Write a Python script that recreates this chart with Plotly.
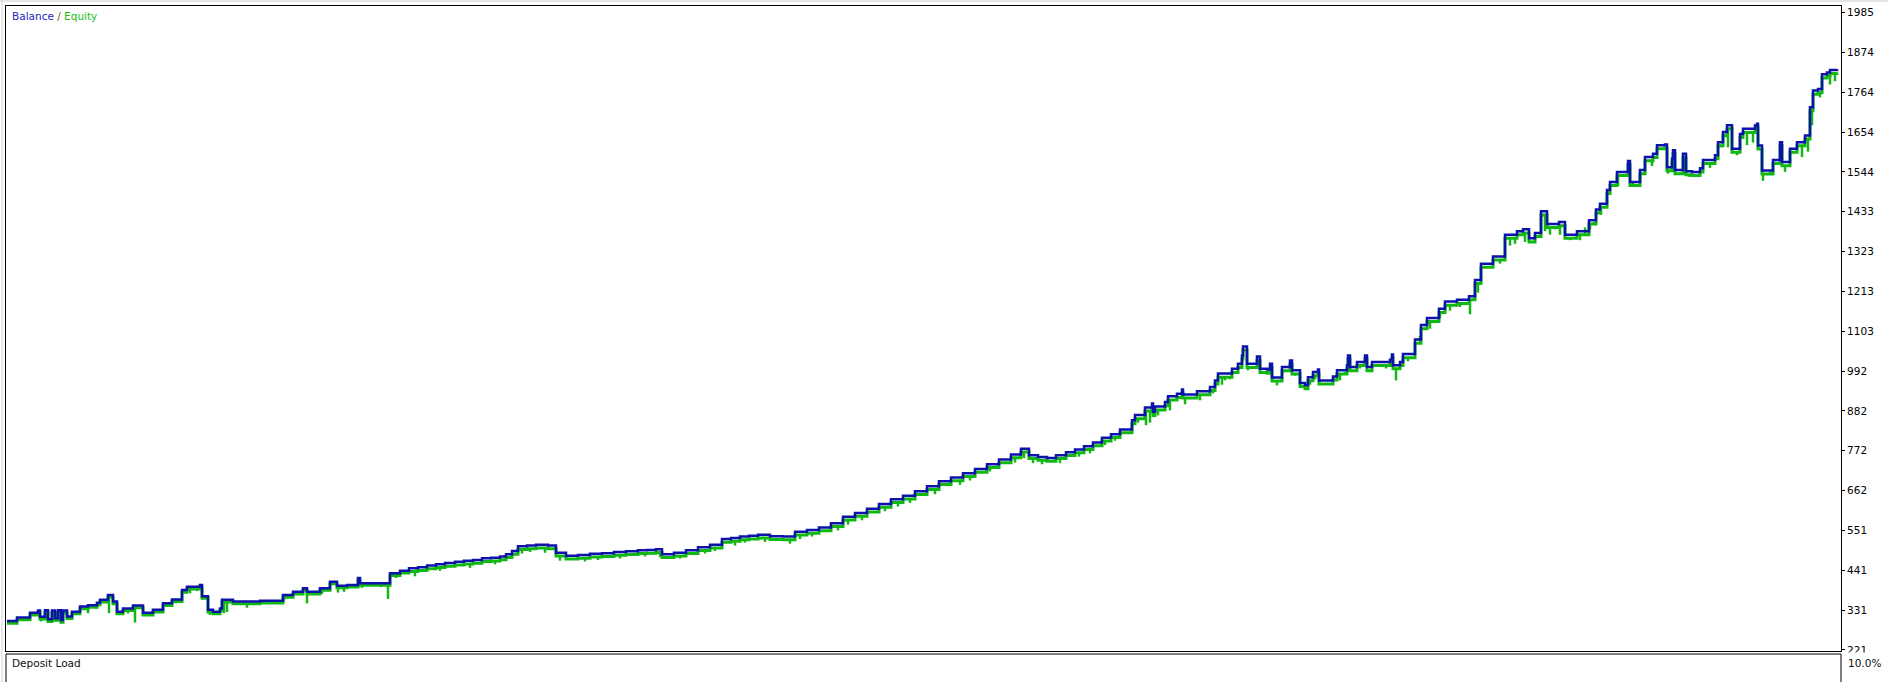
import bisect
import plotly.graph_objects as go

# ---- data ----
# trade position, balance after the deal, floating equity right after it
trade = [7, 17, 30, 38, 40, 45, 48, 52, 55, 58, 61, 63, 67, 72, 80, 88, 97, 100, 108, 113,
         117, 123, 133, 140, 143, 153, 163, 172, 182, 187, 200, 202, 208, 213, 220, 222, 230, 233, 247, 260,
         283, 293, 303, 307, 320, 330, 337, 347, 358, 360, 373, 390, 400,
         409, 418, 427, 436, 445, 455, 464, 473, 482, 491, 500, 506, 512, 518, 527, 536, 548, 556, 566, 578,
         590, 602, 614, 626, 638, 647, 656, 662, 674, 686, 698, 710, 722, 731, 740, 749, 758, 770, 783, 795,
         807, 819, 831, 843, 855, 867, 879, 891, 903, 915, 927, 939, 951, 963, 975, 987, 999, 1011, 1021,
         1029, 1038, 1047, 1056, 1066, 1075, 1084, 1093, 1102, 1111, 1120,
         1132, 1135, 1145, 1152, 1153, 1155, 1165, 1168, 1177, 1182, 1183, 1197, 1210, 1215, 1218,
         1232, 1238, 1242, 1243, 1247, 1257, 1260, 1267, 1270, 1272, 1282, 1290, 1292, 1300, 1305,
         1308, 1313, 1318, 1319, 1333, 1337, 1347, 1348, 1350, 1357, 1365, 1367, 1372, 1390, 1392,
         1393, 1400,
         1403, 1415, 1421, 1427, 1439, 1445, 1457, 1469, 1475, 1481, 1493, 1505, 1517, 1523, 1529,
         1535, 1541, 1547, 1559, 1565, 1577, 1589, 1596,
         1600, 1607, 1610, 1617, 1628, 1630, 1640, 1645, 1653, 1657, 1665, 1667, 1672, 1673, 1675,
         1683, 1686, 1692, 1700, 1703, 1715, 1718, 1723, 1727, 1731, 1732, 1740, 1743, 1755, 1757,
         1758, 1762, 1767, 1773, 1780, 1782, 1790, 1797, 1800, 1805, 1810, 1813, 1818, 1822, 1827,
         1830, 1837]

balance = [301, 311, 324, 330, 313, 331, 306, 330, 309, 331, 304, 330, 314, 327, 341, 345, 352, 360, 373, 355,
           327, 336, 344, 344, 324, 332, 350, 361, 387, 396, 401, 370, 332, 327, 336, 360, 360, 355, 355, 357,
           373, 382, 392, 382, 392, 410, 399, 401, 420, 406, 406, 433, 440,
           447, 450, 455, 458, 462, 465, 468, 470, 475, 476, 480, 486, 495, 508, 510, 512, 510, 490, 482, 484,
           487, 489, 492, 494, 497, 498, 500, 486, 490, 497, 505, 512, 528, 531, 535, 537, 540, 536, 535, 548,
           553, 560, 572, 590, 600, 612, 625, 638, 648, 660, 674, 688, 698, 710, 722, 735, 748, 762, 778,
           760, 755, 752, 760, 768, 776, 785, 795, 808, 818, 831,
           857, 871, 892, 903, 880, 895, 907, 923, 930, 942, 928, 937, 949, 967, 986,
           999, 1013, 1036, 1061, 1013, 1033, 999, 997, 1013, 975, 1004, 1022, 995, 960, 954,
           976, 990, 997, 967, 978, 995, 1009, 1036, 1004, 1018, 1036, 1004, 1018, 1024, 1039,
           1009, 1018,
           1040, 1080, 1120, 1140, 1165, 1185, 1190, 1200, 1245, 1290, 1310, 1370, 1380, 1385, 1360,
           1375, 1435, 1400, 1405, 1370, 1380, 1410, 1440,
           1456, 1494, 1516, 1544, 1574, 1516, 1549, 1585, 1594, 1618, 1620, 1557, 1580, 1604, 1549,
           1594, 1546, 1544, 1554, 1577, 1590, 1626, 1654, 1673, 1673, 1608, 1649, 1663, 1672, 1677,
           1617, 1548, 1548, 1577, 1626, 1571, 1608, 1626, 1626, 1645, 1723, 1769, 1773, 1814, 1819,
           1826, 1829]

equity = [295, 305, 318, 324, 307, 325, 300, 324, 303, 325, 298, 324, 308, 321, 335, 339, 346, 354, 367, 349,
          321, 330, 338, 338, 318, 326, 344, 355, 381, 390, 395, 364, 326, 321, 330, 354, 354, 349, 349, 351,
          367, 376, 386, 376, 386, 404, 393, 395, 414, 400, 400, 427, 434,
          438, 441, 446, 449, 453, 456, 459, 461, 466, 467, 471, 477, 486, 499, 501, 503, 501, 481, 473, 475,
          478, 480, 483, 485, 488, 489, 491, 477, 481, 488, 496, 503, 519, 522, 526, 528, 531, 527, 526, 539,
          544, 551, 563, 581, 591, 603, 616, 629, 639, 651, 665, 679, 689, 701, 713, 726, 739, 753, 769,
          751, 746, 743, 751, 759, 767, 776, 786, 799, 809, 822,
          847, 861, 882, 893, 870, 885, 897, 913, 920, 932, 918, 927, 939, 957, 976,
          989, 1003, 1026, 1051, 1003, 1023, 989, 987, 1003, 965, 994, 1012, 985, 950, 944,
          966, 980, 987, 957, 968, 985, 999, 1026, 994, 1008, 1026, 994, 1008, 1014, 1029,
          999, 1008,
          1030, 1070, 1110, 1130, 1155, 1175, 1180, 1190, 1235, 1280, 1300, 1360, 1370, 1375, 1350,
          1365, 1425, 1390, 1395, 1360, 1370, 1400, 1430,
          1446, 1484, 1506, 1534, 1564, 1506, 1539, 1575, 1584, 1608, 1610, 1547, 1570, 1594, 1539,
          1584, 1536, 1534, 1544, 1567, 1580, 1616, 1644, 1663, 1663, 1598, 1639, 1653, 1662, 1667,
          1607, 1538, 1538, 1567, 1616, 1561, 1598, 1616, 1616, 1635, 1713, 1759, 1763, 1804, 1809,
          1816, 1819]

# equity drawdown spikes: position and lowest equity reached
dip_trade = [41, 49, 56, 62, 88, 95, 109, 120, 128, 135, 147, 166, 176, 190, 197, 210, 216, 224, 227, 247,
             276, 284, 307, 322, 338, 344, 362, 381, 388, 396,
             415, 440, 470, 495, 522, 530, 545, 560, 585, 598, 620, 645, 660, 680, 705, 715, 735, 745,
             765, 790, 800, 812, 838, 848, 862, 885, 898, 910, 935, 960, 970, 990, 1015, 1024, 1033, 1042,
             1060, 1079, 1090, 1105, 1115,
             1138, 1146, 1150, 1158, 1170, 1185, 1190, 1200, 1205, 1213, 1222, 1225, 1230, 1236, 1248, 1252,
             1263, 1277, 1285, 1295, 1302, 1310, 1315, 1325, 1340, 1345, 1352, 1360, 1370, 1380, 1386, 1396,
             1408, 1420, 1430, 1440, 1450, 1460, 1465, 1470, 1478, 1488, 1500, 1510, 1515, 1525, 1538, 1545,
             1550, 1555, 1560, 1570, 1580, 1585, 1590, 1594,
             1601, 1618, 1633, 1640, 1652, 1668, 1676, 1689, 1702, 1710, 1722, 1728, 1737, 1747, 1753,
             1763, 1770, 1785, 1802, 1808, 1812, 1820, 1830, 1835]
dip_equity = [300, 297, 300, 295, 323, 340, 323, 318, 322, 297, 320, 340, 350, 378, 384, 318, 320, 323, 326, 338,
              356, 358, 350, 376, 380, 382, 393, 395, 362, 420,
              425, 440, 448, 458, 488, 492, 490, 468, 466, 470, 474, 480, 478, 474, 488, 495, 510, 518,
              520, 515, 528, 535, 552, 568, 580, 605, 618, 628, 652, 678, 690, 715, 740, 752, 738, 735,
              738, 756, 765, 788, 800,
              850, 843, 850, 870, 884, 901, 915, 912, 925, 931, 955, 967, 970, 985, 995, 1000,
              985, 953, 990, 980, 949, 955, 970, 955, 967, 990, 990, 1000, 990, 1005, 1000, 967,
              1020, 1090, 1110, 1140, 1160, 1170, 1175, 1150, 1210, 1280, 1290, 1340, 1345, 1350, 1365, 1380,
              1370, 1385, 1370, 1355, 1355, 1390, 1385, 1405,
              1425, 1505, 1516, 1520, 1560, 1539, 1539, 1530, 1548, 1555, 1612, 1612, 1590, 1618, 1625,
              1519, 1545, 1544, 1585, 1600, 1673, 1750, 1786, 1795]

tick_values = [221 + 110.25 * k for k in range(17)]
tick_labels = ["221", "331", "441", "551", "662", "772", "882", "992", "1103", "1213",
               "1323", "1433", "1544", "1654", "1764", "1874", "1985"]

# ---- spikes hang from the floating equity level at their position ----
spike_x, spike_y = [], []
for t, low in zip(dip_trade, dip_equity):
    i = min(max(bisect.bisect_right(trade, t) - 1, 0), len(equity) - 1)
    spike_x += [t, t, None]
    spike_y += [equity[i], low, None]

# ---- geometry helpers (pixel -> paper) ----
W, H = 1888, 682
L, R, T, B = 6, 1841, 6, 651
def px(x):
    return (x - L) / (R - L)
def py(y):
    return (B - y) / (B - T)

BLUE = "#0d12aa"
GREEN = "#12b812"
FONT = "DejaVu Sans"

fig = go.Figure()
fig.add_trace(go.Scatter(x=spike_x, y=spike_y, mode="lines", line=dict(color=GREEN, width=2.5),
                         hoverinfo="skip", connectgaps=False))
fig.add_trace(go.Scatter(x=trade, y=equity, mode="lines", line=dict(color=GREEN, width=3, shape="hv"),
                         name="Equity", hoverinfo="skip"))
fig.add_trace(go.Scatter(x=trade, y=balance, mode="lines", line=dict(color=BLUE, width=2.5, shape="hv"),
                         name="Balance", hoverinfo="skip"))

fig.update_layout(
    width=W, height=H,
    margin=dict(l=L, r=W - R, t=T, b=H - B, pad=0),
    paper_bgcolor="white", plot_bgcolor="white",
    showlegend=False,
    font=dict(family=FONT, size=10.5, color="#000000"),
    xaxis=dict(range=[L, R], showgrid=False, zeroline=False, showticklabels=False, ticks="",
               showline=True, mirror=True, linecolor="#000000", linewidth=1, fixedrange=True),
    yaxis=dict(range=[218.2, 2003], side="right", showgrid=False, zeroline=False,
               tickmode="array", tickvals=tick_values, ticktext=tick_labels,
               ticks="outside", ticklen=3, tickwidth=1, tickcolor="#000000",
               tickfont=dict(family=FONT, size=10.5, color="#000000"),
               showline=True, mirror=True, linecolor="#000000", linewidth=1, fixedrange=True),
)

shapes = [
    dict(type="rect", xref="paper", yref="paper", x0=px(0), x1=px(W), y0=py(652.6), y1=py(H + 10),
         fillcolor="white", line=dict(width=0), layer="above"),
    dict(type="line", xref="paper", yref="paper", x0=px(L), x1=px(R), y0=py(654), y1=py(654),
         line=dict(color="#000000", width=1), layer="above"),
    dict(type="line", xref="paper", yref="paper", x0=px(L), x1=px(L), y0=py(654), y1=py(H + 10),
         line=dict(color="#000000", width=1), layer="above"),
    dict(type="line", xref="paper", yref="paper", x0=px(R), x1=px(R), y0=py(654), y1=py(H + 10),
         line=dict(color="#000000", width=1), layer="above"),
    dict(type="line", xref="paper", yref="paper", x0=px(0), x1=px(W), y0=py(1), y1=py(1),
         line=dict(color="#c8c8c8", width=1), layer="above"),
    dict(type="line", xref="paper", yref="paper", x0=px(2), x1=px(2), y0=py(0), y1=py(H),
         line=dict(color="#d0d0d0", width=1), layer="above"),
]
fig.update_layout(shapes=shapes)

fig.add_annotation(xref="paper", yref="paper", x=px(10), y=py(16), xanchor="left", yanchor="middle",
                   showarrow=False,
                   text="<span style='color:#2424c0'>Balance</span><span style='color:#8a5a20'> / </span>"
                        "<span style='color:#1cc01c'>Equity</span>",
                   font=dict(family=FONT, size=10.5))
fig.add_annotation(xref="paper", yref="paper", x=px(10), y=py(663), xanchor="left", yanchor="middle",
                   showarrow=False, text="Deposit Load", font=dict(family=FONT, size=10.5, color="#101010"))
fig.add_annotation(xref="paper", yref="paper", x=px(1846), y=py(662.5), xanchor="left", yanchor="middle",
                   showarrow=False, text="10.0%", font=dict(family=FONT, size=10.5, color="#101010"))

fig.write_html("out.html", config={"displayModeBar": False, "staticPlot": True},
               post_script="document.body.style.margin='0';document.body.style.overflow='hidden';")
